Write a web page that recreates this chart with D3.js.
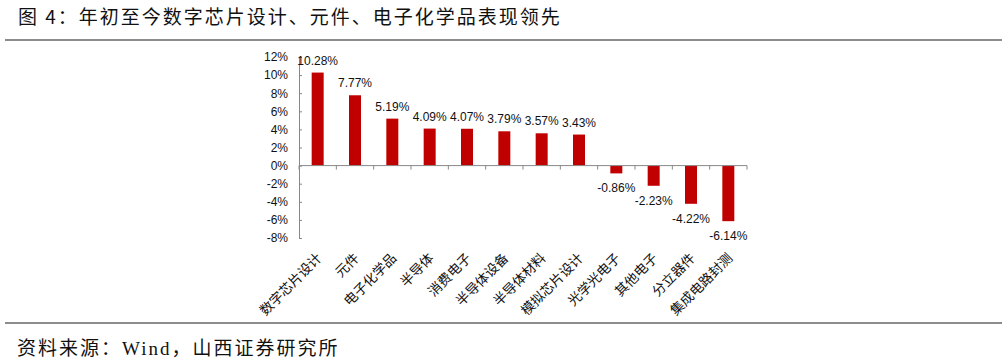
<!DOCTYPE html>
<html>
<head>
<meta charset="utf-8">
<script src="https://cdn.jsdelivr.net/npm/d3@7"></script>
<style>
  body { margin: 0; background: #fff; }
  svg text { font-family: "Liberation Sans", Arial, "Noto Sans CJK SC", sans-serif; }
  .title { font-family: "Noto Sans CJK SC", sans-serif; font-size: 19px; letter-spacing: 2px; fill: #111; }
  .source { font-family: "Liberation Serif", "Noto Sans CJK SC", serif; font-size: 19px; letter-spacing: 2px; fill: #111; }
  .axis path, .axis line { stroke: #888; }
  .axis text { font-size: 12px; fill: #111; }
  .cat-label { font-family: "Noto Sans CJK SC", sans-serif; font-size: 13.5px; fill: #111; }
  .val-label { font-size: 12px; fill: #111; }
</style>
</head>
<body>
<svg id="chart"></svg>
<script>
const categories = ["数字芯片设计", "元件", "电子化学品", "半导体", "消费电子", "半导体设备",
                    "半导体材料", "模拟芯片设计", "光学光电子", "其他电子", "分立器件", "集成电路封测"];
const values = [10.28, 7.77, 5.19, 4.09, 4.07, 3.79, 3.57, 3.43, -0.86, -2.23, -4.22, -6.14];
const yTicks = [12, 10, 8, 6, 4, 2, 0, -2, -4, -6, -8];

const W = 1007, H = 363;
const svg = d3.select('#chart').attr('width', W).attr('height', H);

// title + rules
svg.append('text').attr('class', 'title').attr('x', 18).attr('y', 24)
  .text('图 4：年初至今数字芯片设计、元件、电子化学品表现领先');
svg.append('line').attr('x1', 5).attr('x2', 1002).attr('y1', 40).attr('y2', 40)
  .attr('stroke', '#666').attr('stroke-width', 1.5);
svg.append('line').attr('x1', 5).attr('x2', 1002).attr('y1', 323).attr('y2', 323)
  .attr('stroke', '#666').attr('stroke-width', 1.5);
svg.append('text').attr('class', 'source').attr('x', 17).attr('y', 355)
  .text('资料来源：Wind，山西证券研究所');

// plot area
const plot = {left: 299, right: 747, top: 57, bottom: 238};
const x = d3.scaleBand().domain(categories).range([plot.left, plot.right]).paddingInner(0).paddingOuter(0);
const y = d3.scaleLinear().domain([-8, 12]).range([plot.bottom, plot.top]);
const barW = 12;

const g = svg.append('g');

g.selectAll('.bar').data(values).join('rect')
  .attr('class', 'bar')
  .attr('fill', '#c00000')
  .attr('x', (d, i) => x(categories[i]) + x.bandwidth() / 2 - barW / 2)
  .attr('width', barW)
  .attr('y', d => y(Math.max(0, d)))
  .attr('height', d => Math.abs(y(d) - y(0)));

// y axis
const yAxis = d3.axisLeft(y).tickValues(yTicks).tickFormat(d => d + '%')
  .tickSizeInner(-3).tickSizeOuter(0).tickPadding(11);
g.append('g').attr('class', 'axis').attr('transform', `translate(${plot.left},0)`).call(yAxis);

// x axis at zero, ticks between categories
const xAxisG = g.append('g').attr('class', 'axis');
xAxisG.append('line').attr('x1', plot.left).attr('x2', plot.right).attr('y1', y(0)).attr('y2', y(0));
xAxisG.selectAll('.tk').data(d3.range(categories.length + 1)).join('line')
  .attr('class', 'tk')
  .attr('x1', i => plot.left + i * x.bandwidth()).attr('x2', i => plot.left + i * x.bandwidth())
  .attr('y1', y(0)).attr('y2', y(0) + 4);

// value labels
g.selectAll('.val-label').data(values).join('text')
  .attr('class', 'val-label')
  .attr('text-anchor', 'middle')
  .attr('x', (d, i) => x(categories[i]) + x.bandwidth() / 2)
  .attr('y', d => d >= 0 ? y(d) - 8 : y(d) + 19)
  .text(d => d.toFixed(2) + '%');

// category labels, rotated
g.selectAll('.cat-label').data(categories).join('text')
  .attr('class', 'cat-label')
  .attr('text-anchor', 'end')
  .attr('transform', d => `translate(${x(d) + x.bandwidth() / 2 + 5},${plot.bottom + 21}) rotate(-45)`)
  .text(d => d);
</script>
</body>
</html>
